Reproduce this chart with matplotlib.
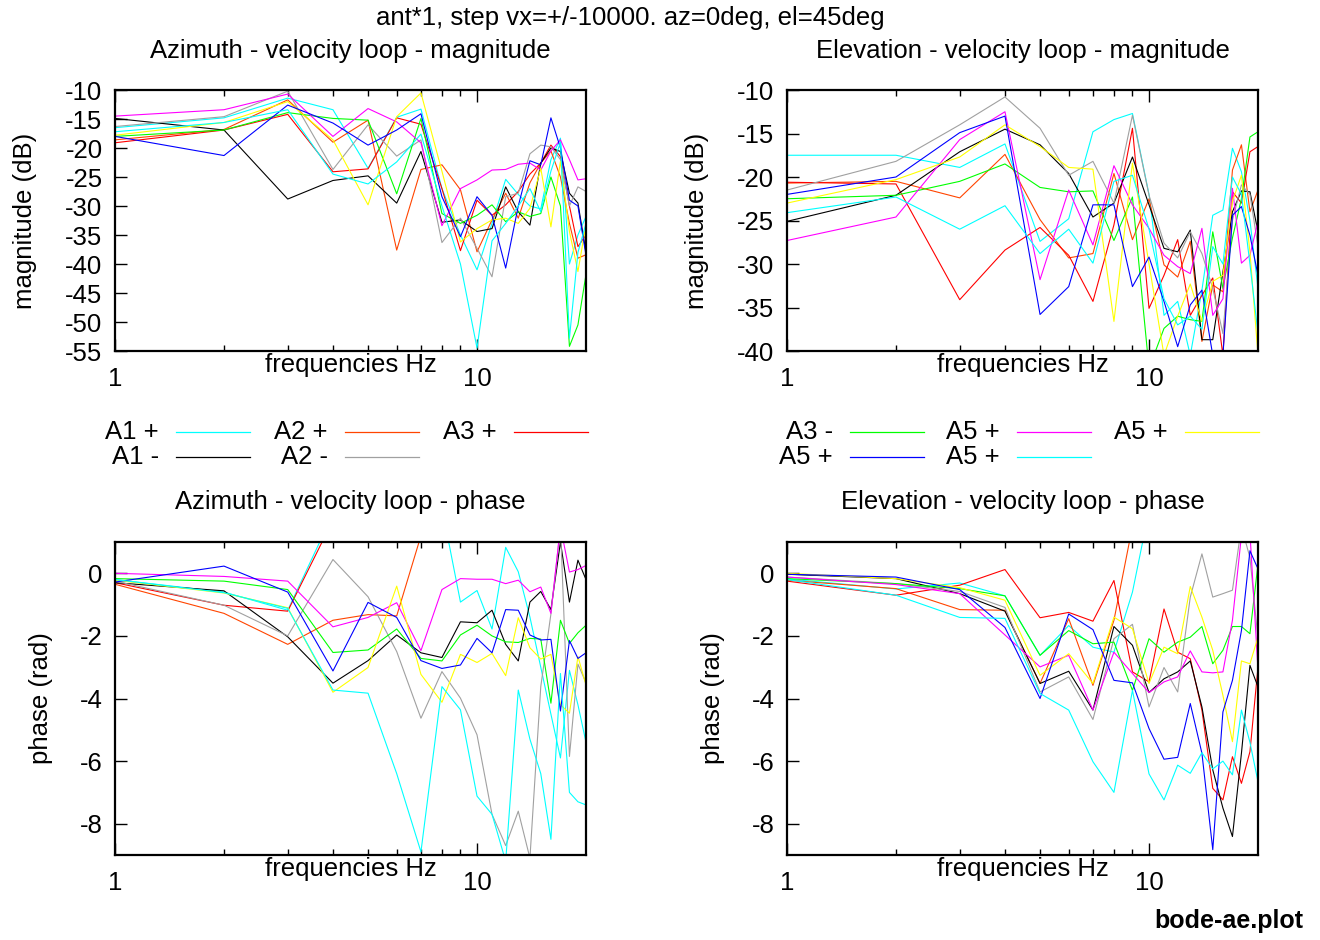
import numpy as np
import matplotlib
matplotlib.use("Agg")
import matplotlib.pyplot as plt
from matplotlib.lines import Line2D
from matplotlib.ticker import FixedLocator, NullFormatter

plt.rcParams['font.family'] = ['Liberation Sans', 'DejaVu Sans']

freq = [1, 2, 3, 4, 5, 6, 7, 8, 9, 10, 11, 12, 13, 14, 15, 16, 17, 18, 19, 20]

labels = ["A1 +", "A2 +", "A3 +", "A1 -", "A2 -", "A3 -", "A5 +", "A5 +", "A5 +", "A5 +"]
colors = ["#00ffff", "#ff4500", "#ff0000", "#000000", "#a0a0a0",
          "#00ff00", "#ff00ff", "#ffff00", "#0000ff", "#00ffff"]

# azimuth magnitude (dB)
az_mag_a1p = [-16.5, -14.8, -11.4, -13.4, -23.5, -14.7, -13.3, -27.0, -35.0, -41.0, -33.0, -25.4, -28.0, -30.0, -30.5, -22.0, -18.3, -40.0, -35.0, -31.8]
az_mag_a2p = [-18.6, -16.8, -11.7, -19.0, -15.2, -37.6, -23.7, -22.9, -27.2, -37.9, -32.4, -27.8, -32.1, -26.0, -22.6, -20.5, -25.0, -33.0, -39.0, -38.4]
az_mag_a3p = [-19.1, -16.9, -14.2, -24.1, -23.6, -14.8, -15.9, -27.0, -37.7, -29.0, -31.6, -29.8, -27.5, -24.5, -22.6, -19.5, -21.5, -30.0, -37.0, -35.0]
az_mag_a1m = [-14.9, -16.9, -28.8, -25.6, -24.8, -29.5, -20.6, -32.8, -32.4, -34.4, -33.9, -26.7, -31.0, -33.3, -22.6, -20.0, -20.6, -27.8, -29.5, -38.0]
az_mag_a2m = [-16.3, -14.6, -10.2, -23.7, -16.0, -21.4, -18.6, -36.3, -32.1, -37.3, -42.2, -28.4, -27.8, -21.0, -19.5, -19.8, -22.0, -30.0, -26.7, -27.5]
az_mag_a3m = [-18.0, -16.9, -13.9, -14.9, -15.2, -27.9, -14.9, -31.3, -33.0, -31.6, -29.8, -32.7, -31.0, -31.8, -31.3, -25.0, -30.0, -54.2, -50.5, -41.8]
az_mag_a5a = [-14.5, -13.4, -10.7, -18.0, -13.2, -15.5, -19.1, -33.4, -27.0, -25.5, -23.8, -23.7, -22.8, -22.6, -23.8, -20.5, -18.6, -22.0, -25.5, -25.3]
az_mag_a5b = [-17.8, -15.6, -12.0, -18.6, -29.8, -14.6, -10.5, -24.0, -36.2, -33.9, -32.4, -32.1, -33.0, -30.4, -23.5, -33.6, -22.3, -34.4, -41.3, -33.2]
az_mag_a5c = [-18.0, -21.3, -12.6, -15.7, -19.5, -16.9, -14.1, -28.4, -35.3, -28.4, -31.6, -40.7, -30.0, -22.2, -22.9, -14.8, -20.0, -29.0, -30.0, -38.5]
az_mag_a5d = [-17.2, -15.6, -13.4, -24.5, -26.2, -22.4, -17.6, -30.0, -40.0, -54.5, -36.0, -33.0, -30.0, -27.0, -31.0, -24.0, -19.0, -52.8, -38.0, -33.0]

# elevation magnitude (dB)
el_mag_a1p = [-17.5, -17.5, -18.9, -16.2, -27.4, -24.8, -14.8, -13.4, -12.7, -22.0, -35.9, -34.3, -40.5, -33.0, -24.4, -23.8, -16.7, -19.4, -25.0, -32.8]
el_mag_a2p = [-20.7, -20.5, -22.4, -17.4, -24.9, -29.3, -28.8, -19.6, -27.2, -22.5, -30.1, -31.5, -27.4, -38.9, -32.4, -33.2, -19.2, -16.3, -24.0, -21.5]
el_mag_a3p = [-20.6, -20.8, -34.1, -28.4, -25.8, -29.0, -34.3, -25.5, -14.4, -35.1, -31.3, -27.2, -35.9, -33.6, -31.6, -40.5, -21.7, -23.0, -17.1, -16.5]
el_mag_a1m = [-25.1, -22.1, -17.1, -14.5, -16.3, -19.6, -24.6, -23.0, -17.7, -23.2, -28.2, -28.6, -26.1, -38.7, -38.7, -30.9, -24.0, -21.6, -21.7, -26.3]
el_mag_a2m = [-21.5, -18.2, -14.0, -10.8, -14.4, -19.8, -18.2, -23.0, -12.9, -22.1, -27.6, -29.3, -26.3, -28.8, -32.8, -38.0, -25.0, -20.9, -22.0, -28.0]
el_mag_a3m = [-22.5, -22.1, -20.5, -18.5, -21.2, -21.7, -21.6, -27.3, -22.3, -42.0, -37.4, -36.0, -36.4, -36.6, -26.3, -32.8, -27.0, -22.5, -15.4, -14.8]
el_mag_a5a = [-27.3, -24.6, -15.7, -12.5, -31.8, -21.5, -27.8, -18.7, -23.2, -25.9, -29.0, -30.3, -31.1, -25.9, -35.9, -34.0, -21.3, -29.9, -29.0, -25.1]
el_mag_a5b = [-23.0, -20.3, -17.7, -14.0, -16.5, -18.9, -19.1, -36.6, -18.4, -30.0, -40.5, -36.0, -32.3, -36.6, -32.0, -31.3, -22.8, -19.8, -28.6, -40.5]
el_mag_a5c = [-22.0, -20.0, -14.9, -13.0, -35.8, -32.6, -23.2, -23.2, -32.6, -29.2, -34.3, -39.5, -34.7, -33.0, -40.5, -40.5, -24.4, -23.4, -26.7, -31.3]
el_mag_a5d = [-24.1, -22.3, -26.0, -23.3, -28.8, -26.0, -29.9, -20.5, -19.8, -26.0, -34.0, -37.0, -36.0, -37.5, -28.0, -30.0, -20.0, -22.0, -30.0, -38.0]

# azimuth phase (rad)
az_ph_a1p = [-0.2, -0.6, -1.18, 1.9, 2.5, 2.8, 2.5, 2.1, -0.92, -0.55, -1.78, 0.83, 0.05, -1.4, -3.0, -4.5, -5.9, -3.1, -4.2, -5.4]
az_ph_a2p = [-0.35, -1.28, -2.27, -1.5, -1.32, -1.36, 1.2, 3.0, 3.0, 3.0, 3.0, 3.0, 3.0, 3.0, 3.0, 3.0, 3.0, 3.0, 3.0, 3.0]
az_ph_a3p = [-0.3, -1.02, -1.21, 1.7, 2.6, 3.0, 3.0, 3.0, 3.0, 3.0, 3.0, 3.0, 3.0, 3.0, 3.0, 3.0, 3.0, 3.0, 3.0, 3.0]
az_ph_a1m = [-0.3, -0.56, -2.03, -3.51, -2.79, -1.97, -2.54, -2.69, -1.55, -1.58, -1.18, -2.27, -2.8, -0.92, -0.58, -1.16, 1.0, -0.92, 0.42, -0.2]
az_ph_a2m = [-0.25, -1.02, -2.0, 0.44, -0.75, -2.5, -4.63, -3.14, -3.99, -5.16, -7.7, -8.7, -7.6, -9.1, -3.62, -1.3, 1.5, -5.85, -2.9, -3.5]
az_ph_a3m = [-0.17, -0.25, -0.52, -2.53, -2.45, -1.78, -2.72, -2.8, -1.97, -1.66, -2.0, -2.19, -2.21, -2.08, -2.1, -4.15, -1.5, -2.24, -1.9, -1.66]
az_ph_a5a = [0.0, -0.1, -0.25, -1.71, -1.41, -0.94, -2.47, -0.52, -0.17, -0.19, -0.19, -0.33, -0.22, -0.59, -0.44, -1.28, 1.5, 0.04, 0.12, 0.25]
az_ph_a5b = [-0.22, -0.63, -1.1, -3.8, -3.01, -0.41, -3.23, -4.12, -2.59, -2.85, -2.56, -3.27, -1.42, -2.38, -2.74, -2.59, -4.2, -4.47, -2.66, -3.57]
az_ph_a5c = [-0.28, 0.23, -0.6, -3.12, -0.93, -1.41, -2.79, -3.04, -2.93, -2.08, -2.54, -1.16, -1.18, -1.97, -2.13, -2.11, -4.4, -2.15, -2.72, -2.54]
az_ph_a5d = [-0.2, -0.62, -1.12, -3.73, -3.83, -6.4, -8.9, -3.62, -4.36, -7.12, -7.7, -9.2, -3.73, -5.3, -6.4, -8.5, -3.2, -7.0, -7.3, -7.4]

# elevation phase (rad)
el_ph_a1p = [-0.18, -0.5, -0.31, -0.72, -2.62, -1.67, -2.36, -2.52, -0.6, 2.0, 3.0, 3.0, 3.0, 3.0, 3.0, 3.0, 3.0, 3.0, 3.0, 3.0]
el_ph_a2p = [-0.22, -0.49, -1.16, -1.18, -3.52, -1.45, -3.58, -1.5, 1.5, 3.0, 3.0, 3.0, 3.0, 3.0, 3.0, 3.0, 3.0, 3.0, 3.0, 3.0]
el_ph_a3p = [-0.25, -0.7, -0.38, 0.12, -1.42, -1.25, -1.53, -0.23, -3.15, -3.47, -1.14, -2.52, -2.73, -4.37, -6.87, -7.24, -5.86, -6.71, -5.7, -3.0]
el_ph_a1m = [-0.03, -0.17, -0.65, -1.21, -3.52, -3.13, -4.37, -1.7, -2.3, -3.81, -3.37, -3.15, -2.8, -4.27, -6.28, -7.5, -8.41, -5.75, -2.94, -3.63]
el_ph_a2m = [-0.12, -0.33, -0.58, -1.09, -3.79, -3.31, -4.67, -2.09, -1.63, -4.27, -3.01, -3.79, -0.76, 0.62, -0.76, -0.65, -0.54, 1.5, 0.5, -2.1]
el_ph_a3m = [-0.17, -0.33, -0.49, -0.72, -2.62, -1.83, -2.25, -2.2, -3.74, -2.09, -2.52, -2.2, -2.04, -1.7, -2.89, -2.46, -1.7, -1.7, -1.93, 0.3]
el_ph_a5a = [-0.12, -0.36, -0.65, -1.97, -2.99, -2.62, -4.37, -2.52, -3.2, -3.81, -3.47, -3.31, -2.48, -3.15, -3.18, -3.15, -1.5, 1.2, 1.3, -3.1]
el_ph_a5b = [0.0, -0.17, -0.46, -0.86, -3.26, -2.57, -3.52, -1.4, -1.77, -3.52, -2.36, -2.57, -0.42, -1.4, -2.46, -3.9, -5.38, -2.8, -2.89, -2.04]
el_ph_a5c = [-0.03, -0.12, -0.52, -1.73, -4.0, -1.3, -1.8, -3.42, -3.5, -4.96, -5.94, -5.88, -4.16, -5.75, -8.83, -4.43, -3.42, -1.83, 0.72, 0.14]
el_ph_a5d = [-0.2, -0.7, -1.41, -1.44, -3.84, -4.37, -6.02, -7.0, -3.74, -6.41, -7.24, -6.13, -6.39, -5.73, -6.25, -6.0, -6.44, -4.37, -5.4, -6.66]

az_mag = [az_mag_a1p, az_mag_a2p, az_mag_a3p, az_mag_a1m, az_mag_a2m,
          az_mag_a3m, az_mag_a5a, az_mag_a5b, az_mag_a5c, az_mag_a5d]
el_mag = [el_mag_a1p, el_mag_a2p, el_mag_a3p, el_mag_a1m, el_mag_a2m,
          el_mag_a3m, el_mag_a5a, el_mag_a5b, el_mag_a5c, el_mag_a5d]
az_ph = [az_ph_a1p, az_ph_a2p, az_ph_a3p, az_ph_a1m, az_ph_a2m,
         az_ph_a3m, az_ph_a5a, az_ph_a5b, az_ph_a5c, az_ph_a5d]
el_ph = [el_ph_a1p, el_ph_a2p, el_ph_a3p, el_ph_a1m, el_ph_a2m,
         el_ph_a3m, el_ph_a5a, el_ph_a5b, el_ph_a5c, el_ph_a5d]

W, H = 1320, 940
FS = 18.5
fig = plt.figure(figsize=(W / 100, H / 100), dpi=100)


def px_axes(x0, y0, x1, y1):
    return fig.add_axes([x0 / W, 1 - y1 / H, (x1 - x0) / W, (y1 - y0) / H])


def setup(ax, data, title, ylabel, ylim, yticks, label_x, title_gap):
    for vals, c in zip(data, colors):
        ax.plot(freq, vals, color=c, lw=0.8)
    ax.set_xscale('log')
    ax.set_xlim(1, 20)
    ax.set_ylim(*ylim)
    ax.xaxis.set_major_locator(FixedLocator([1, 10]))
    ax.xaxis.set_minor_locator(FixedLocator([2, 3, 4, 5, 6, 7, 8, 9]))
    ax.xaxis.set_minor_formatter(NullFormatter())
    ax.set_xticklabels(["1", "10"])
    ax.set_yticks(yticks)
    ax.set_yticklabels([str(v) for v in yticks])
    ax.tick_params(which='both', direction='in', top=True, right=False,
                   labelsize=FS, width=1.0)
    ax.tick_params(which='major', length=8.5)
    ax.tick_params(which='minor', length=4.3)
    ax.tick_params(axis='x', pad=11.5)
    ax.tick_params(axis='y', pad=9)
    for s in ax.spines.values():
        s.set_linewidth(1.6)
    h = ax.bbox.height
    ax.text(0.5, 1 + title_gap / h, title, transform=ax.transAxes,
            ha='center', va='center', fontsize=FS)
    ax.text(0.5, -14 / h, "frequencies Hz", transform=ax.transAxes,
            ha='center', va='center', fontsize=FS)
    bb = ax.get_position()
    fig.text(label_x / W, bb.y0 + bb.height / 2, ylabel, rotation=90,
             ha='center', va='center', fontsize=FS)


ax1 = px_axes(115, 90, 586, 351)
ax2 = px_axes(787, 90, 1258, 351)
ax3 = px_axes(115, 542, 586, 855)
ax4 = px_axes(787, 542, 1258, 855)

setup(ax1, az_mag, "Azimuth - velocity loop - magnitude", "magnitude (dB)",
      (-55, -10), list(range(-10, -56, -5)), 25, 39)
setup(ax2, el_mag, "Elevation - velocity loop - magnitude", "magnitude (dB)",
      (-40, -10), list(range(-10, -41, -5)), 697, 39)
setup(ax3, az_ph, "Azimuth - velocity loop - phase", "phase (rad)",
      (-9, 1), [0, -2, -4, -6, -8], 41, 40)
setup(ax4, el_ph, "Elevation - velocity loop - phase", "phase (rad)",
      (-9, 1), [0, -2, -4, -6, -8], 713, 40)

# legends, drawn gnuplot style: label then sample, row by row
text_right = [[159, 328, 497], [833, 1000, 1168]]
row_y = [432, 457]
for side in range(2):
    for k in range(5):
        idx = side * 5 + k
        row, col = divmod(k, 3)
        xr = text_right[side][col]
        y = 1 - row_y[row] / H
        fig.text(xr / W, y, labels[idx], ha='right', va='center', fontsize=FS)
        fig.add_artist(Line2D([(xr + 17) / W, (xr + 91) / W], [y, y],
                              color=colors[idx], lw=0.9))

fig.text(630 / W, 1 - 18 / H, "ant*1, step vx=+/-10000. az=0deg, el=45deg",
         ha='center', va='center', fontsize=FS)
fig.text(1303 / W, 1 - 921 / H, "bode-ae.plot", ha='right', va='center',
         fontsize=FS - 0.5, fontweight='bold')

fig.savefig("out.png", dpi=100)
